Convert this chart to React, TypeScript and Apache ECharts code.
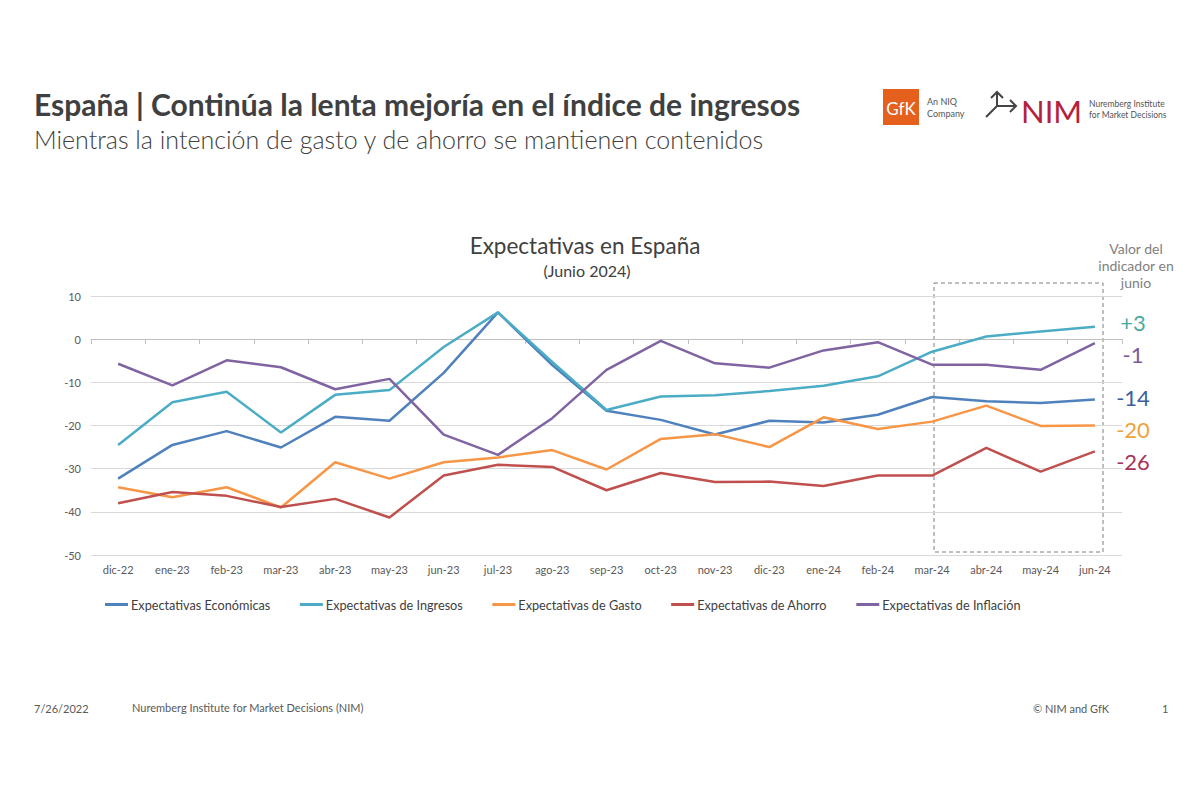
import React, { useEffect, useRef } from "react";
import * as echarts from "echarts";

const categories = ["dic-22","ene-23","feb-23","mar-23","abr-23","may-23","jun-23","jul-23","ago-23","sep-23","oct-23","nov-23","dic-23","ene-24","feb-24","mar-24","abr-24","may-24","jun-24"];

const economicas = [-32.3,-24.5,-21.3,-25.1,-18.0,-18.9,-7.8,6.2,-6.0,-16.6,-18.7,-22.1,-18.9,-19.3,-17.5,-13.4,-14.4,-14.8,-14.0];
const ingresos = [-24.5,-14.6,-12.2,-21.6,-12.9,-11.8,-1.8,6.2,-5.3,-16.4,-13.3,-13.0,-12.0,-10.8,-8.6,-2.9,0.6,1.8,2.9];
const gasto = [-34.3,-36.6,-34.3,-39.0,-28.5,-32.3,-28.5,-27.4,-25.7,-30.2,-23.1,-22.0,-25.0,-18.1,-20.8,-19.1,-15.4,-20.1,-20.0];
const ahorro = [-38.0,-35.4,-36.3,-38.9,-37.0,-41.3,-31.6,-29.1,-29.6,-35.0,-31.0,-33.1,-33.0,-34.0,-31.6,-31.6,-25.2,-30.7,-26.0];
const inflacion = [-5.7,-10.7,-4.9,-6.5,-11.6,-9.2,-22.1,-26.8,-18.3,-7.1,-0.4,-5.6,-6.6,-2.6,-0.7,-5.9,-5.9,-7.1,-0.9];

const seriesNames = ["Expectativas Económicas","Expectativas de Ingresos","Expectativas de Gasto","Expectativas de Ahorro","Expectativas de Inflación"];
const seriesColors = ["#4F81BD","#4BACC6","#F79646","#C0504D","#8064A2"];
const seriesData = [economicas, ingresos, gasto, ahorro, inflacion];

const juneLabels = ["+3","-1","-14","-20","-26"];
const juneLabelColors = ["#4aa9a0","#7b5a9e","#3d5f9b","#f0a238","#a6345a"];

const FONT = "Lato, 'Open Sans', sans-serif";

export default function App() {
  const ref = useRef<HTMLDivElement>(null);
  useEffect(() => {
    if (!ref.current) return;
    const chart = echarts.init(ref.current, undefined, { renderer: "svg" });
    const labelYs = [322, 354, 397, 429, 461];
    const graphic: any[] = [
      { type: "text", x: 34, y: 104, style: { text: "España | Continúa la lenta mejoría en el índice de ingresos", font: `bold 30px ${FONT}`, fill: "#404040", verticalAlign: "middle" } },
      { type: "text", x: 34, y: 139, style: { text: "Mientras la intención de gasto y de ahorro se mantienen contenidos", font: `300 25px ${FONT}`, fill: "#404040", verticalAlign: "middle" } },
      { type: "text", x: 585, y: 245, style: { text: "Expectativas en España", font: `22.5px ${FONT}`, fill: "#404040", align: "center", verticalAlign: "middle" } },
      { type: "text", x: 587, y: 270, style: { text: "(Junio 2024)", font: `16px ${FONT}`, fill: "#404040", align: "center", verticalAlign: "middle" } },
      { type: "text", x: 1136, y: 248, style: { text: "Valor del", font: `14px ${FONT}`, fill: "#7f7f7f", align: "center", verticalAlign: "middle" } },
      { type: "text", x: 1136, y: 265, style: { text: "indicador en", font: `14px ${FONT}`, fill: "#7f7f7f", align: "center", verticalAlign: "middle" } },
      { type: "text", x: 1136, y: 282, style: { text: "junio", font: `14px ${FONT}`, fill: "#7f7f7f", align: "center", verticalAlign: "middle" } },
      { type: "rect", shape: { x: 934, y: 283, width: 169, height: 269 }, style: { fill: "none", stroke: "#7f7f7f", lineWidth: 1, lineDash: [4, 3] } },
      // logos
      { type: "rect", shape: { x: 883, y: 89, width: 36, height: 36 }, style: { fill: "#e5601c" } },
      { type: "text", x: 901, y: 108, style: { text: "GfK", font: `17px ${FONT}`, fill: "#ffffff", align: "center", verticalAlign: "middle" } },
      { type: "text", x: 927, y: 101, style: { text: "An NIQ", font: `9px ${FONT}`, fill: "#555555", verticalAlign: "middle" } },
      { type: "text", x: 927, y: 113, style: { text: "Company", font: `9px ${FONT}`, fill: "#555555", verticalAlign: "middle" } },
      { type: "polyline", shape: { points: [[986, 117], [997, 106], [1016, 106]] }, style: { stroke: "#444", lineWidth: 2, fill: "none" } },
      { type: "polyline", shape: { points: [[1010, 100], [1016, 106], [1010, 112]] }, style: { stroke: "#444", lineWidth: 2, fill: "none" } },
      { type: "polyline", shape: { points: [[997, 106], [997, 92]] }, style: { stroke: "#444", lineWidth: 2, fill: "none" } },
      { type: "polyline", shape: { points: [[991, 98], [997, 92], [1003, 98]] }, style: { stroke: "#444", lineWidth: 2, fill: "none" } },
      { type: "text", x: 1021, y: 111, style: { text: "NIM", font: `31px ${FONT}`, fill: "#b5213b", verticalAlign: "middle" } },
      { type: "text", x: 1089, y: 104, style: { text: "Nuremberg Institute", font: `8.5px ${FONT}`, fill: "#555555", verticalAlign: "middle" } },
      { type: "text", x: 1089, y: 115, style: { text: "for Market Decisions", font: `8.5px ${FONT}`, fill: "#555555", verticalAlign: "middle" } },
      // footer
      { type: "text", x: 34, y: 708, style: { text: "7/26/2022", font: `11px ${FONT}`, fill: "#595959", verticalAlign: "middle" } },
      { type: "text", x: 132, y: 707, style: { text: "Nuremberg Institute for Market Decisions (NIM)", font: `11px ${FONT}`, fill: "#595959", verticalAlign: "middle" } },
      { type: "text", x: 1033, y: 708, style: { text: "© NIM and GfK", font: `11px ${FONT}`, fill: "#595959", verticalAlign: "middle" } },
      { type: "text", x: 1162, y: 708, style: { text: "1", font: `11px ${FONT}`, fill: "#595959", verticalAlign: "middle" } },
    ];
    juneLabels.forEach((t, i) => {
      graphic.push({ type: "text", x: 1133, y: labelYs[i], style: { text: t, font: `22px ${FONT}`, fill: juneLabelColors[i], align: "center", verticalAlign: "middle" } });
    });

    chart.setOption({
      animation: false,
      textStyle: { fontFamily: FONT },
      grid: { left: 91, right: 78, top: 296, bottom: 245, containLabel: false },
      legend: {
        left: 105, top: 598, itemGap: 29.5, itemWidth: 23, itemHeight: 3, icon: "rect", padding: 0,
        textStyle: { fontSize: 12.7, color: "#404040", fontFamily: FONT, padding: [0, 0, 0, -2] },
        data: seriesNames,
      },
      xAxis: [
        {
          type: "category", data: categories, position: "bottom",
          axisLine: { show: true, onZero: true, lineStyle: { color: "#bfbfbf" } },
          axisTick: { show: true, length: 5, lineStyle: { color: "#bfbfbf" } },
          axisLabel: { show: false },
          splitLine: { show: false },
        },
        {
          type: "category", data: categories, position: "bottom",
          axisLine: { show: false, onZero: false },
          axisTick: { show: false },
          axisLabel: { show: true, fontSize: 11, color: "#595959", margin: 9, interval: 0 },
          splitLine: { show: false },
        },
      ],
      yAxis: {
        type: "value", min: -50, max: 10, interval: 10,
        axisLine: { show: false }, axisTick: { show: false },
        axisLabel: { fontSize: 11, color: "#595959", margin: 10 },
        splitLine: { lineStyle: { color: "#d9d9d9" } },
      },
      series: seriesNames.map((name, i) => ({
        name, type: "line", xAxisIndex: 0, data: seriesData[i],
        symbol: "none", lineStyle: { width: 2.5, color: seriesColors[i] }, itemStyle: { color: seriesColors[i] },
      })),
      graphic,
    });
    return () => chart.dispose();
  }, []);
  return <div ref={ref} style={{ position: "absolute", left: 0, top: 0, width: 1200, height: 800, background: "#fff" }} />;
}
